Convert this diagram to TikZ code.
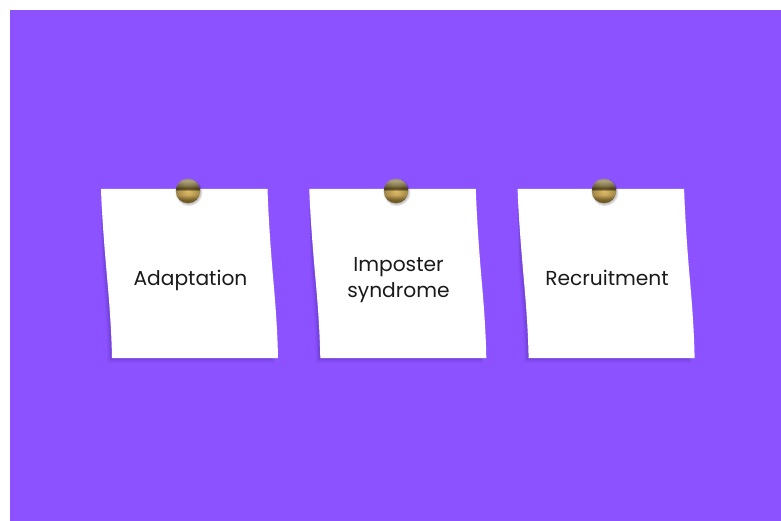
\documentclass[tikz,border=0pt]{standalone}
\usepackage{fontspec}
\setmainfont{Poppins}
\usetikzlibrary{shadings,fadings}
\definecolor{bgpurple}{HTML}{8C52FF}
\definecolor{shadowpurple}{HTML}{5A30B0}
\definecolor{txt}{HTML}{1A1A1A}
\definecolor{gA}{HTML}{9A8A58}
\definecolor{gB}{HTML}{EFE0AE}
\definecolor{gC}{HTML}{5A4820}
\definecolor{gD}{HTML}{E0BC66}
\definecolor{gE}{HTML}{9A7A34}
\pgfdeclareverticalshading{tackshade}{100bp}{
  color(0bp)=(gE); color(32bp)=(gE); color(42bp)=(gD); color(50bp)=(gD); color(55bp)=(gC);
  color(61bp)=(gA); color(72bp)=(gB); color(84bp)=(gA); color(100bp)=(gC)}
\tikzfading[name=tackrim, inner color=transparent!100, outer color=transparent!70]
\tikzset{
  x=1pt,y=-1pt,
  notelabel/.style={font=\fontsize{20.2}{26}\selectfont,text=txt,align=center,inner sep=0pt},
  tackhead/.style={circle,minimum size=24.5pt,inner sep=0pt,shading=tackshade},
  pics/notepaper/.style={code={
    \foreach \o/\w in {4.5/.10,3.2/.14,2/.18}{
      \fill[shadowpurple,opacity=\w] (0,20) -- (20,20) -- (174,169+\o) -- (11-\o,169+\o)
        .. controls (10.5-\o,140) and (8-\o,110) .. (6.3-\o,91)
        .. controls (4-\o,65) and (1,30) .. cycle;}
    \fill[white] (0,0) -- (166.5,0)
      .. controls (167.5,30) and (170,65) .. (172.3,91)
      .. controls (174,110) and (176.5,140) .. (177,169)
      -- (11,169)
      .. controls (10.5,140) and (8,110) .. (6.3,91)
      .. controls (4,65) and (1,30) .. cycle;
  }},
}
\begin{document}
\begin{tikzpicture}
\useasboundingbox (0,0) rectangle (781,521);
\fill[white] (0,0) rectangle (781,521);
\fill[bgpurple] (10,10) rectangle (781,521);
\pic at (101,189) {notepaper};
\pic at (309.3,189) {notepaper};
\pic at (517.6,189) {notepaper};
\foreach \x in {188,396,604}{
  \fill[black,opacity=.10] (\x+1,192.5) circle (13.5);
  \fill[black,opacity=.14] (\x+.7,192.2) circle (12.6);
}
\node[tackhead] (tackA) at (188,191) {};
\node[tackhead] (tackB) at (396,191) {};
\node[tackhead] (tackC) at (604,191) {};
\foreach \x in {188,396,604}{
  \fill[black,path fading=tackrim] (\x,191) circle (12.25);
}
\node[notelabel,anchor=base] (adaptation) at (190.5,285) {Adaptation};
\node[notelabel,anchor=base] (imposter) at (398.5,271.5) {Imposter};
\node[notelabel,anchor=base] (syndrome) at (398.5,297) {syndrome};
\node[notelabel,anchor=base] (recruitment) at (607,285) {Recruitment};
\end{tikzpicture}
\end{document}
